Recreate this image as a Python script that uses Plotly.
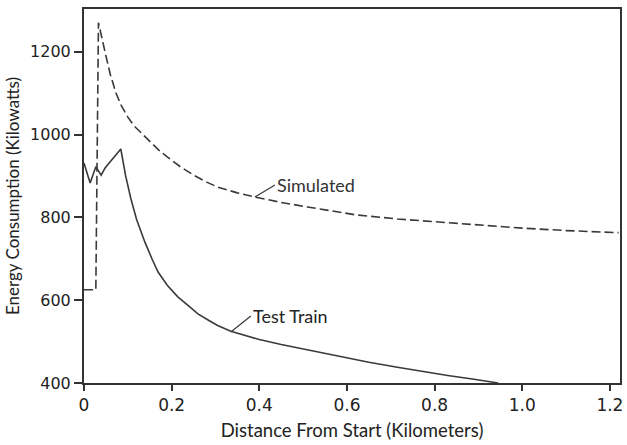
import plotly.graph_objects as go

# Simulated energy consumption (dashed)
sim_x = [0.0, 0.027, 0.033, 0.04, 0.05, 0.06, 0.073, 0.085, 0.10, 0.115, 0.13, 0.15, 0.17, 0.19,
         0.22, 0.25, 0.28, 0.305, 0.35, 0.39, 0.45, 0.51, 0.57, 0.62, 0.715, 0.806, 0.90, 1.0, 1.10, 1.22]
sim_y = [625, 625, 1270, 1235, 1190, 1145, 1100, 1070, 1042, 1020, 1004, 983, 963, 946,
         922, 902, 885, 873, 859, 849, 836, 825, 814, 806, 796, 789, 781, 774, 768, 763]

# Test train energy consumption (solid)
test_x = [0.0, 0.014, 0.027, 0.039, 0.048, 0.084, 0.095, 0.107, 0.12, 0.139, 0.155, 0.169, 0.19,
          0.214, 0.24, 0.26, 0.285, 0.305, 0.335, 0.37, 0.40, 0.45, 0.487, 0.55, 0.60, 0.65,
          0.715, 0.77, 0.83, 0.89, 0.945]
test_y = [931, 883, 922, 902, 919, 965, 900, 845, 795, 740, 700, 668, 636,
          608, 585, 567, 551, 539, 525, 514, 505, 493, 485, 471, 460, 450,
          438, 428, 418, 409, 400]

x_ticks = [0, 0.2, 0.4, 0.6, 0.8, 1.0, 1.2]
x_tick_text = ["0", "0.2", "0.4", "0.6", "0.8", "1.0", "1.2"]
y_ticks = [400, 600, 800, 1000, 1200]

line_col = "#3a3a3a"
font_fam = "Lato"
tick_fam = "DejaVu Sans"

fig = go.Figure()
fig.add_trace(go.Scatter(x=sim_x, y=sim_y, mode="lines", name="Simulated",
                         line=dict(color=line_col, width=1.6, dash="9px,4px")))
fig.add_trace(go.Scatter(x=test_x, y=test_y, mode="lines", name="Test Train",
                         line=dict(color=line_col, width=1.6)))

fig.add_annotation(x=0.39, y=849, text="Simulated", xanchor="left", yanchor="middle",
                   ax=20, ay=-12, axref="pixel", ayref="pixel",
                   showarrow=True, arrowhead=0, arrowwidth=1.2, arrowcolor=line_col,
                   font=dict(size=18, color="#333", family=font_fam))
fig.add_annotation(x=0.335, y=523, text="Test Train", xanchor="left", yanchor="middle",
                   ax=20, ay=-16, axref="pixel", ayref="pixel",
                   showarrow=True, arrowhead=0, arrowwidth=1.2, arrowcolor=line_col,
                   font=dict(size=18, color="#222", family=font_fam))

fig.update_layout(
    width=627, height=445,
    margin=dict(l=84, r=4, t=9, b=62),
    paper_bgcolor="white", plot_bgcolor="white",
    showlegend=False,
    font=dict(family=font_fam, size=15, color="#222"),
)
fig.update_xaxes(range=[0, 1.223], tickvals=x_ticks, ticktext=x_tick_text,
                 showgrid=False, zeroline=False, showline=True, mirror=True,
                 linecolor="#333", linewidth=2, ticks="outside", ticklen=6,
                 tickcolor="#333", tickwidth=1.5,
                 tickfont=dict(family=tick_fam, size=17),
                 title=dict(text="Distance From Start (Kilometers)", standoff=10,
                            font=dict(size=18.5)))
fig.update_yaxes(range=[400, 1303], tickvals=y_ticks,
                 showgrid=False, zeroline=False, showline=True, mirror=True,
                 linecolor="#333", linewidth=2, ticks="outside", ticklen=8,
                 tickcolor="#333", tickwidth=1.5,
                 tickfont=dict(family=tick_fam, size=16),
                 title=dict(text="Energy Consumption (Kilowatts)", standoff=6,
                            font=dict(size=17)))

fig.write_html("out.html")
